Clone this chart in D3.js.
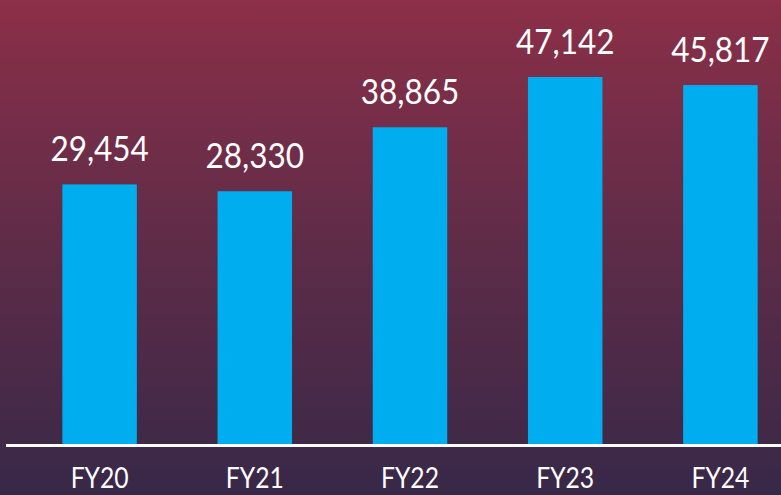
<!DOCTYPE html>
<html>
<head>
<meta charset="utf-8">
<script src="https://cdn.jsdelivr.net/npm/d3@7"></script>
<style>
  html, body { margin: 0; padding: 0; background: #3a2848; }
  svg { display: block; }
</style>
</head>
<body>
<div class="svg-container"></div>
<script>
// data
var years = ["FY20", "FY21", "FY22", "FY23", "FY24"];
var values = [29454, 28330, 38865, 47142, 45817];

var width = 781, height = 495;
var baseY = 445;

var svg = d3.select(".svg-container").append("svg")
    .attr("width", width)
    .attr("height", height);

// background gradient, red at top going to dark purple
var grad = svg.append("defs").append("linearGradient")
    .attr("id", "bg")
    .attr("x1", 0).attr("y1", 0)
    .attr("x2", 0).attr("y2", 1);
grad.append("stop").attr("offset", "0%").attr("stop-color", "#8c2f48");
grad.append("stop").attr("offset", "50%").attr("stop-color", "#5e2c48");
grad.append("stop").attr("offset", "100%").attr("stop-color", "#382848");

svg.append("rect")
    .attr("width", width)
    .attr("height", height)
    .attr("fill", "url(#bg)");

var x = d3.scaleBand()
    .domain(years)
    .range([22, 798])
    .paddingInner(0.52)
    .paddingOuter(0.26);

// the original slide doesn't start bars at zero, so the domain is stretched to match
var y = d3.scaleLinear()
    .domain([-13450, 59820])
    .range([baseY, 0]);

var data = years.map(function(d, i) { return { year: d, value: values[i] }; });

svg.selectAll("rect.bar").data(data)
    .enter()
    .append("rect")
    .attr("class", "bar")
    .attr("x", function(d) { return x(d.year); })
    .attr("y", function(d) { return y(d.value); })
    .attr("width", x.bandwidth())
    .attr("height", function(d) { return baseY - y(d.value); })
    .attr("fill", "#00aeef");

// baseline
svg.append("line")
    .attr("x1", 6).attr("x2", width)
    .attr("y1", baseY + 0.5).attr("y2", baseY + 0.5)
    .attr("stroke", "#ffffff")
    .attr("stroke-width", 3);

var fmt = d3.format(",");

svg.selectAll("text.val").data(data)
    .enter()
    .append("text")
    .attr("class", "val")
    .attr("transform", function(d) {
        return "translate(" + (x(d.year) + x.bandwidth() / 2) + "," + (y(d.value) - 23) + ") scale(0.9,1)";
    })
    .attr("text-anchor", "middle")
    .attr("fill", "#ffffff")
    .attr("font-family", "Lato, 'Open Sans', sans-serif")
    .attr("font-size", "35px")
    .text(function(d) { return fmt(d.value); });

// category labels under the line
svg.selectAll("text.cat").data(data)
    .enter()
    .append("text")
    .attr("class", "cat")
    .attr("transform", function(d) {
        return "translate(" + (x(d.year) + x.bandwidth() / 2) + "," + 488 + ") scale(0.85,1)";
    })
    .attr("text-anchor", "middle")
    .attr("fill", "#ffffff")
    .attr("font-family", "Lato, 'Open Sans', sans-serif")
    .attr("font-size", "29px")
    .text(function(d) { return d.year; });
</script>
</body>
</html>
